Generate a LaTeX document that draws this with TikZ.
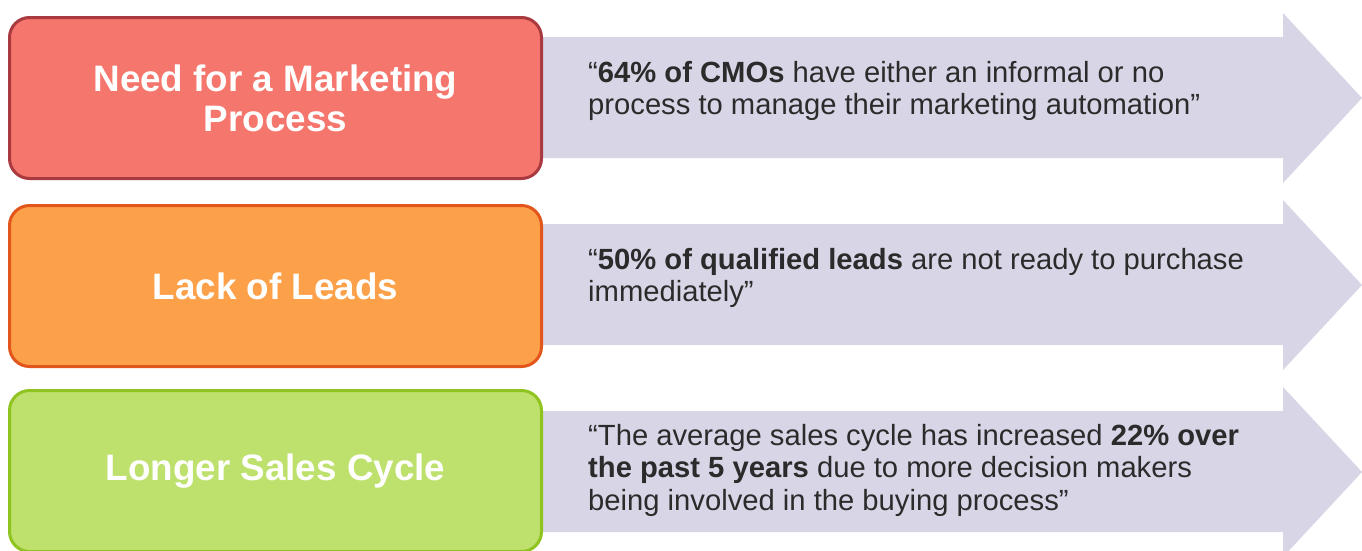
\documentclass[tikz,border=0pt]{standalone}
\usepackage{fontspec}
\setmainfont{Liberation Sans}
\definecolor{arrowc}{HTML}{D8D6E6}
\definecolor{redf}{HTML}{F5766C}
\definecolor{redd}{HTML}{A93A3F}
\definecolor{orgf}{HTML}{FCA14A}
\definecolor{orgd}{HTML}{E2561C}
\definecolor{grnf}{HTML}{BDE16C}
\definecolor{grnd}{HTML}{8FC320}
\definecolor{quotec}{HTML}{2B2B2B}
\tikzset{
  catbox/.style={rounded corners=20pt, line width=3pt, minimum width=532pt, minimum height=161pt,
     text=white, align=center, font=\fontsize{36.8}{40}\selectfont\bfseries, inner sep=0pt},
  quotetext/.style={anchor=base west, align=left, text=quotec, inner sep=0pt,
     font=\fontsize{29.2}{32.3}\selectfont},
  bigarrow/.style={fill=arrowc, draw=none}
}
\begin{document}
\begin{tikzpicture}[x=1pt,y=-1pt]
\useasboundingbox (0,0) rectangle (1362,550);
\clip (0,0) rectangle (1362,550);
% arrows
\foreach \d/\n in {0/a1,187/a2,374/a3}{
  \path[bigarrow] (530,37+\d) -- (1283,37+\d) -- (1283,13+\d) -- (1362,98+\d)
     -- (1283,183+\d) -- (1283,158+\d) -- (530,158+\d) -- cycle;
}
% boxes
\node[catbox, fill=redf, draw=redd] (b1) at (275.5,98) {Need for a Marketing\\Process};
\node[catbox, fill=orgf, draw=orgd] (b2) at (275.5,286) {Lack of Leads};
\node[catbox, fill=grnf, draw=grnd] (b3) at (275.5,471) {Longer Sales Cycle};
% quotes (base anchor = baseline of the last line)
\node[quotetext] (q1) at (588,114.5) {“\textbf{64\% of CMOs} have either an informal or no\\process to manage their marketing automation”};
\node[quotetext] (q2) at (588,301.5) {“\textbf{50\% of qualified leads} are not ready to purchase\\immediately”};
\node[quotetext] (q3) at (588,510) {“The average sales cycle has increased \textbf{22\% over}\\\textbf{the past 5 years} due to more decision makers\\being involved in the buying process”};
\end{tikzpicture}
\end{document}
